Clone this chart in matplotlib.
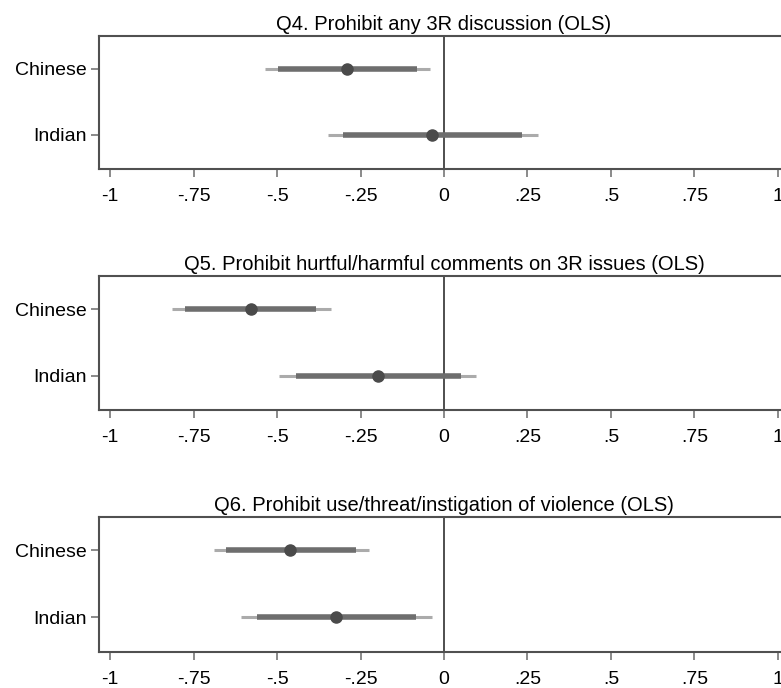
import matplotlib
matplotlib.use("Agg")
import matplotlib.pyplot as plt

plt.rcParams['font.family'] = ['Liberation Sans', 'DejaVu Sans']

groups = ["Chinese", "Indian"]
titles = ["Q4. Prohibit any 3R discussion (OLS)",
          "Q5. Prohibit hurtful/harmful comments on 3R issues (OLS)",
          "Q6. Prohibit use/threat/instigation of violence (OLS)"]

# point estimates, 90% CI (thick) and 95% CI (thin) per panel, Chinese then Indian
est = [[-0.29, -0.036], [-0.578, -0.198], [-0.46, -0.322]]
ci90_lo = [[-0.497, -0.302], [-0.776, -0.444], [-0.654, -0.560]]
ci90_hi = [[-0.081, 0.234], [-0.382, 0.050], [-0.264, -0.084]]
ci95_lo = [[-0.536, -0.347], [-0.814, -0.493], [-0.690, -0.607]]
ci95_hi = [[-0.042, 0.281], [-0.338, 0.096], [-0.226, -0.037]]

xticks = [-1, -0.75, -0.5, -0.25, 0, 0.25, 0.5, 0.75, 1]
xticklabels = ["-1", "-.75", "-.5", "-.25", "0", ".25", ".5", ".75", "1"]

fig = plt.figure(figsize=(7.81, 6.88), dpi=100)
H = 688.0
W = 781.0
# (top, bottom) of each panel in pixels, right side runs past the image like the original
panels = [(36, 169), (276, 410), (517, 652)]

edge = "#505050"
for i, (top, bot) in enumerate(panels):
    ax = fig.add_axes([99 / W, 1 - bot / H, 690 / W, (bot - top) / H])
    y = [1, 2]
    ax.hlines(y, ci95_lo[i], ci95_hi[i], color="#ababab", lw=2.2, zorder=2)
    ax.hlines(y, ci90_lo[i], ci90_hi[i], color="#6e6e6e", lw=4.0, zorder=3)
    ax.plot(est[i], y, "o", color="#4a4a4a", ms=8, zorder=4)
    ax.axvline(0, color="#404040", lw=1.3, zorder=1)
    ax.set_xlim(-1.033, 1.033)
    ax.set_ylim(2.52, 0.5)
    ax.set_yticks(y)
    ax.set_yticklabels(groups, fontsize=14)
    ax.set_xticks(xticks)
    ax.set_xticklabels(xticklabels, fontsize=14)
    ax.tick_params(axis="both", direction="out", length=6, width=1.2, color="#777777", pad=8)
    ax.tick_params(axis="y", pad=3)
    for s in ax.spines.values():
        s.set_color(edge)
        s.set_linewidth(1.5)
    ax.set_title(titles[i], fontsize=14.5, pad=4)

fig.savefig("out.png", dpi=100)
